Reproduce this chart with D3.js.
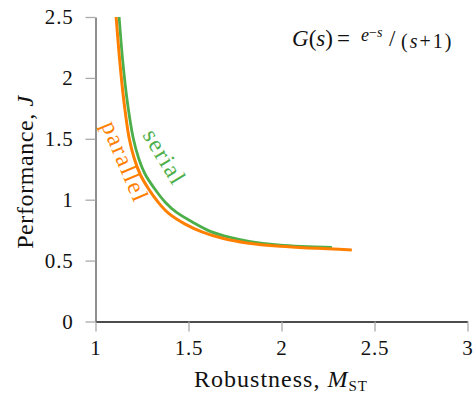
<!DOCTYPE html>
<html><head><meta charset="utf-8">
<script src="https://cdn.jsdelivr.net/npm/d3@7"></script>
<style>body{margin:0;background:#fff}svg{display:block}text{font-family:"Liberation Serif","DejaVu Serif",serif}</style>
</head><body><svg id="c" width="473" height="394"></svg>
<script>
const xTicks = [1, 1.5, 2, 2.5, 3];
const yTicks = [0, 0.5, 1, 1.5, 2, 2.5];
const serialM = [1.127, 1.146, 1.170, 1.203, 1.232, 1.267, 1.316, 1.375, 1.434, 1.527, 1.617, 1.724, 1.832, 1.993, 2.271];
const serialJ = [2.5, 2.145, 1.817, 1.504, 1.340, 1.209, 1.094, 0.979, 0.897, 0.811, 0.740, 0.690, 0.656, 0.626, 0.608];
const parallelM = [1.111, 1.130, 1.152, 1.181, 1.208, 1.240, 1.283, 1.337, 1.392, 1.482, 1.572, 1.688, 1.814, 1.993, 2.378];
const parallelJ = [2.5, 2.145, 1.817, 1.504, 1.340, 1.209, 1.094, 0.979, 0.889, 0.799, 0.736, 0.681, 0.645, 0.618, 0.588];

const svg = d3.select("#c");
const L = 95.5, R = 467.5, T = 17, B = 321.5;
const x = d3.scaleLinear().domain([1, 3]).range([L, R]);
const y = d3.scaleLinear().domain([0, 2.5]).range([B, T]);

// axes
const xa = svg.append("g").attr("transform", `translate(0,${B})`)
  .call(d3.axisBottom(x).tickValues(xTicks).tickFormat(d3.format("")).tickSizeOuter(0).tickSizeInner(10).tickPadding(9));
const ya = svg.append("g").attr("transform", `translate(${L},0)`)
  .call(d3.axisLeft(y).tickValues(yTicks).tickFormat(d3.format("")).tickSizeOuter(0).tickSizeInner(10).tickPadding(12));
[xa, ya].forEach(a => {
  a.selectAll(".tick line").attr("stroke", "#aaa").attr("stroke-width", 1.3);
  a.selectAll(".tick text").attr("fill", "#111").style("font-size", "21px")
    .style("letter-spacing", "0.8px").style("font-family", "Liberation Serif, serif");
});
xa.select(".domain").attr("stroke", "#111").attr("stroke-width", 1.3);
ya.select(".domain").attr("stroke", "#444").attr("stroke-width", 1.2);

svg.append("clipPath").attr("id", "clip").append("rect")
  .attr("x", L).attr("y", T).attr("width", R - L + 10).attr("height", B - T);

const line = d3.line().x(d => x(d[0])).y(d => y(d[1])).curve(d3.curveCatmullRom.alpha(0.5));
const g = svg.append("g").attr("clip-path", "url(#clip)");
g.append("path").datum(serialM.map((m, i) => [m, serialJ[i]]))
  .attr("d", line).attr("fill", "none").attr("stroke", "#4daf4a").attr("stroke-width", 2.8);
g.append("path").datum(parallelM.map((m, i) => [m, parallelJ[i]]))
  .attr("d", line).attr("fill", "none").attr("stroke", "#ff7f00").attr("stroke-width", 3);

// curve labels
svg.append("text").attr("transform", `translate(142,135) rotate(59)`)
  .attr("fill", "#4daf4a").style("font-size", "24px").style("letter-spacing", "1.5px").text("serial");
svg.append("text").attr("transform", `translate(101,125) rotate(67)`)
  .attr("fill", "#ff7f00").style("font-size", "24px").style("letter-spacing", "1.8px").text("parallel");

// axis labels
const xl = svg.append("text").attr("x", 281).attr("y", 387).attr("text-anchor", "middle")
  .attr("fill", "#111").style("font-size", "24px").style("letter-spacing", "1px");
xl.append("tspan").text("Robustness, ");
xl.append("tspan").style("font-style", "italic").text("M");
xl.append("tspan").style("font-size", "15px").attr("dy", 4).text("ST");

const yl = svg.append("text").attr("transform", "translate(33,172) rotate(-90)").attr("text-anchor", "middle")
  .attr("fill", "#111").style("font-size", "24px").style("letter-spacing", "0.6px");
yl.append("tspan").text("Performance, ");
yl.append("tspan").style("font-style", "italic").text("J");

// formula
const f = svg.append("text").attr("x", 292).attr("y", 46).attr("fill", "#111").style("font-size", "23px");
f.append("tspan").style("font-style", "italic").text("G");
f.append("tspan").text("(");
f.append("tspan").style("font-style", "italic").text("s");
f.append("tspan").text(")");
f.append("tspan").attr("x", 337).text("=");
f.append("tspan").attr("x", 361).style("font-style", "italic").style("font-size", "18px").attr("dy", -5).text("e");
f.append("tspan").style("font-size", "14px").attr("dy", -4).text("−");
f.append("tspan").style("font-style", "italic").style("font-size", "14px").text("s");
f.append("tspan").attr("x", 389).attr("dy", 9).text("/");
f.append("tspan").attr("x", 401).style("font-size", "20px").style("letter-spacing", "2px").attr("dy", 2).text("(");
f.append("tspan").style("font-style", "italic").style("font-size", "20px").style("letter-spacing", "2px").text("s");
f.append("tspan").style("font-size", "20px").style("letter-spacing", "2px").text("+1)");
</script></body></html>
